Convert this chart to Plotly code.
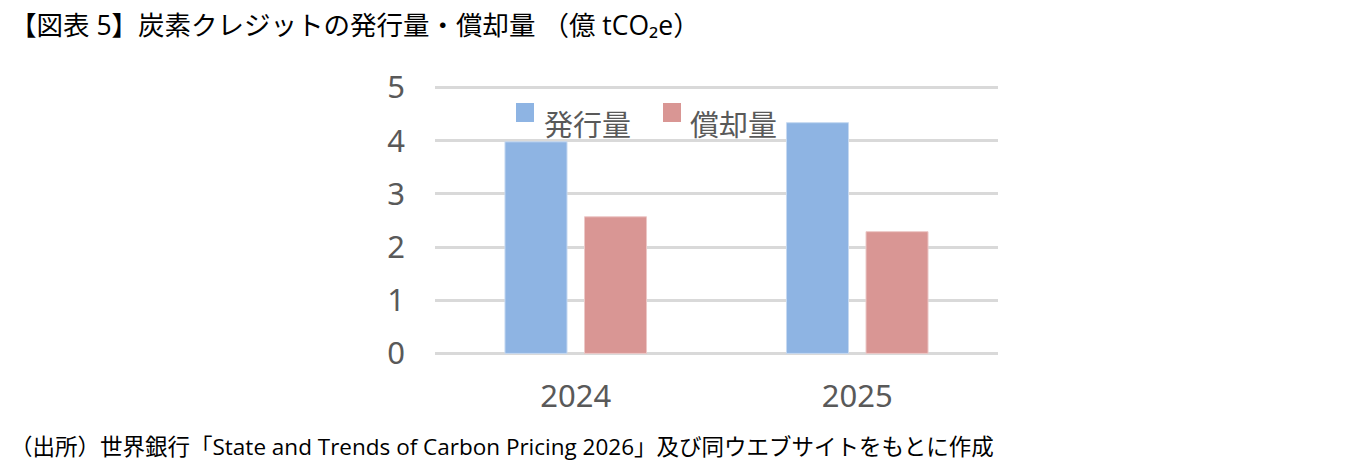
import plotly.graph_objects as go

years = ['2024', '2025']
series_names = ['発行量', '償却量']
issued = [3.98, 4.34]
retired = [2.57, 2.29]
y_ticks = [0, 1, 2, 3, 4, 5]
colors = ['#8EB4E3', '#D99694']

font_jp = 'Noto Sans CJK JP'
font_mix = 'Open Sans, Noto Sans CJK JP'

fig = go.Figure()
fig.add_trace(go.Bar(x=years, y=issued, name=series_names[0],
                     marker=dict(color=colors[0], line=dict(color='#c6d9f1', width=1))))
fig.add_trace(go.Bar(x=years, y=retired, name=series_names[1],
                     marker=dict(color=colors[1], line=dict(color='#ecc8c7', width=1))))

# figure is 1350x462 because the page body adds an 8px margin
# y range padded a little so plotly keeps the 0 and 5 gridlines with bars
fig.update_layout(
    width=1350, height=462,
    margin=dict(l=427, r=360, t=78, b=115),
    paper_bgcolor='white', plot_bgcolor='white',
    barmode='group', bargap=0.435, bargroupgap=0.22,
    font=dict(family=font_jp, color='#595959'),
    showlegend=False,
    xaxis=dict(showgrid=False, showline=False, ticks='', ticklabelstandoff=20,
               tickfont=dict(size=31, color='#595959', family='Noto Sans')),
    yaxis=dict(range=[-0.03, 5.03], tickvals=y_ticks, showgrid=True, gridcolor='#d9d9d9',
               gridwidth=3, zeroline=False, ticks='', ticklabelstandoff=29,
               tickfont=dict(size=31, color='#595959', family='Noto Sans')),
)

# legend drawn by hand inside the plot (bigger swatches than plotly's own)
legend_x = [(0.1439, 0.1758, 0.190), (0.405, 0.437, 0.4494)]
for (x0, x1, xt), name, c in zip(legend_x, series_names, colors):
    fig.add_shape(type='rect', xref='paper', yref='paper', x0=x0, x1=x1,
                  y0=0.8662, y1=0.9368, fillcolor=c, line=dict(width=0))
    fig.add_annotation(text=name, xref='paper', yref='paper', x=xt, y=0.8625,
                       xanchor='left', yanchor='middle', showarrow=False,
                       font=dict(size=29, color='#595959', family=font_jp))

fig.add_annotation(text='【図表 5】炭素クレジットの発行量・償却量 （億 tCO₂e）',
                   xref='paper', yref='paper', x=-0.7584, y=1.2268,
                   xanchor='left', yanchor='middle', showarrow=False,
                   font=dict(size=26.5, color='#000000', family=font_mix))
fig.add_annotation(text='（出所）世界銀行「State and Trends of Carbon Pricing 2026」及び同ウエブサイトをもとに作成',
                   xref='paper', yref='paper', x=-0.7584, y=-0.342,
                   xanchor='left', yanchor='middle', showarrow=False,
                   font=dict(size=22.5, color='#000000', family=font_mix))

fig.write_html('out.html')
